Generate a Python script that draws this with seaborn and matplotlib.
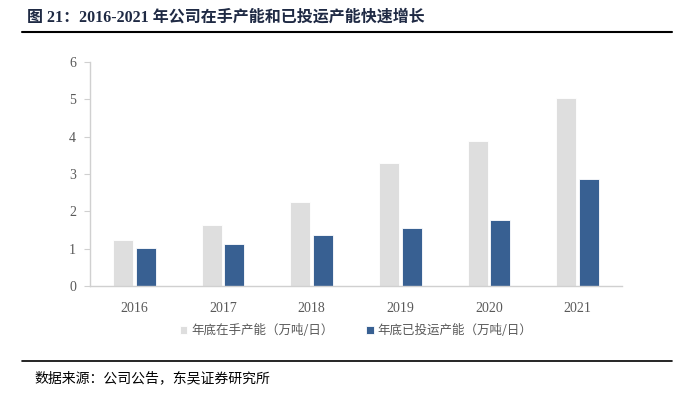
import seaborn as sns
import matplotlib.pyplot as plt
import pandas as pd

# Data
years = ["2016", "2017", "2018", "2019", "2020", "2021"]
in_hand = [1.23, 1.63, 2.25, 3.30, 3.88, 5.03]
in_operation = [1.01, 1.12, 1.37, 1.55, 1.76, 2.86]
series_names = ["年底在手产能（万吨/日）", "年底已投运产能（万吨/日）"]
colors = ["#dedede", "#386092"]

df = pd.DataFrame({
    "year": years * 2,
    "value": in_hand + in_operation,
    "series": [series_names[0]] * len(years) + [series_names[1]] * len(years),
})

sns.set_style("white")
plt.rcParams["font.family"] = ["Liberation Serif", "Noto Sans CJK SC", "DejaVu Sans"]

fig = plt.figure(figsize=(6.82, 3.95), dpi=100)
ax = fig.add_axes([0.132, 0.276, 0.78, 0.567])

sns.barplot(data=df, x="year", y="value", hue="series", palette=colors, saturation=1,
            width=0.512, gap=0.12, ax=ax, legend=True, edgecolor="white", linewidth=0.6)

ax.set_ylim(0, 6)
ax.set_yticks(range(0, 7))
ax.set_xlabel("")
ax.set_ylabel("")
for s in ["top", "right"]:
    ax.spines[s].set_visible(False)
for s in ["left", "bottom"]:
    ax.spines[s].set_color("#d0d0d0")
    ax.spines[s].set_linewidth(1)
ax.tick_params(axis="y", left=True, length=4, color="#d0d0d0", labelsize=10, labelcolor="#595959", pad=6)
ax.tick_params(axis="x", bottom=False, labelsize=10, labelcolor="#595959", pad=8)

handles, labels = ax.get_legend_handles_labels()
ax.legend(handles, labels, loc="upper center", bbox_to_anchor=(0.5, -0.12), ncol=2,
          frameon=False, labelcolor="#595959", handlelength=0.6, handleheight=0.6,
          handletextpad=0.3, columnspacing=2.6,
          prop={"family": ["Noto Sans CJK SC", "DejaVu Sans"], "size": 9})

# title and source
fig.text(0.04, 0.955, "图 21：2016-2021 年公司在手产能和已投运产能快速增长", fontsize=11.5,
         fontweight="bold", color="#1f2a44", va="center",
         family=["Liberation Serif", "Noto Sans CJK SC"])
fig.add_artist(plt.Line2D([0.032, 0.985], [0.918, 0.918], color="black", lw=1.5))
fig.add_artist(plt.Line2D([0.032, 0.985], [0.085, 0.085], color="black", lw=1.2))
fig.text(0.05, 0.043, "数据来源：公司公告，东吴证券研究所", fontsize=10, color="black", va="center",
         family=["Noto Sans CJK SC", "DejaVu Sans"])

fig.savefig("out.png", dpi=100)
